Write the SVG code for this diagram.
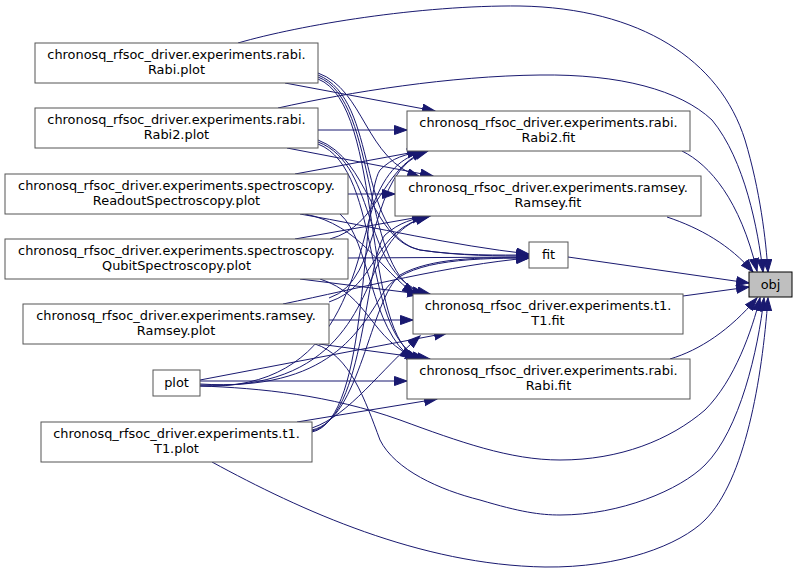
<svg xmlns="http://www.w3.org/2000/svg" width="797" height="573" viewBox="0 0 797 573">
<style>
.n rect{fill:#ffffff;stroke:#555555;stroke-width:1}
.n text{font-family:"DejaVu Sans",sans-serif;font-size:12.9px;fill:#000000;text-anchor:middle}
#e path{fill:none;stroke:#191970;stroke-width:1;marker-end:url(#a)}
</style>
<defs>
<marker id="a" markerUnits="userSpaceOnUse" markerWidth="14" markerHeight="11" refX="13" refY="5" orient="auto">
<path d="M0.5,0.5 L13,5 L0.5,9.5 Z" fill="#191970" stroke="#191970" stroke-width="1"/>
</marker>
</defs>
<rect width="797" height="573" fill="#ffffff"/>
<g id="e">
<path d="M238,43 C300,25 420,5 520,6 C640,8 720,60 745,140 C760,190 766,240 768,272"/>
<path d="M278,108 C350,92 450,76 540,75 C620,74 680,90 712,120 C745,160 758,230 763,272"/>
<path d="M682,151 C710,165 740,200 757,271"/>
<path d="M667,217 C700,228 730,245 753,272"/>
<path d="M568,257 L749,283"/>
<path d="M683,296 L749,287"/>
<path d="M670,359 C700,350 730,330 757,298"/>
<path d="M200,386 C260,388 330,395 400,420 C460,442 510,460 560,460 C620,460 670,440 705,410 C735,380 752,330 760,298"/>
<path d="M315,344 C350,355 365,400 380,440 C395,470 440,490 480,500 C520,512 540,515 560,515 C620,515 680,490 705,465 C740,430 758,350 764,298"/>
<path d="M212,462 C300,510 420,565 545,567 C620,568 680,545 705,520 C745,480 762,380 768,298"/>
<path d="M285,83 L435,111"/>
<path d="M318,73 C365,90 365,160 420,177"/>
<path d="M318,75 C380,100 355,235 420,250 C460,256 500,255 529,255"/>
<path d="M318,77 C380,100 360,280 425,294"/>
<path d="M318,79 C385,105 360,340 420,359"/>
<path d="M318,130 L407,130"/>
<path d="M287,148 L433,176"/>
<path d="M318,140 C370,160 370,240 420,250 C460,256 500,256 529,256"/>
<path d="M318,142 C380,165 360,280 430,294"/>
<path d="M318,144 C385,170 360,345 425,359"/>
<path d="M295,174 L420,151"/>
<path d="M348,194 L395,194"/>
<path d="M300,214 C380,228 450,245 529,254"/>
<path d="M305,214 C360,225 380,270 415,294"/>
<path d="M340,214 C370,240 370,330 413,359"/>
<path d="M330,239 C380,225 380,170 425,151"/>
<path d="M295,239 L425,216"/>
<path d="M348,258 L529,257"/>
<path d="M300,279 L420,294"/>
<path d="M320,279 C370,295 370,340 418,359"/>
<path d="M329,298 C385,280 365,170 428,151"/>
<path d="M329,302 C380,285 370,230 430,216"/>
<path d="M283,304 C360,288 450,265 529,258"/>
<path d="M329,320 L413,320"/>
<path d="M319,344 L430,359"/>
<path d="M200,381 L407,381"/>
<path d="M200,380 L447,333"/>
<path d="M200,384 C330,392 360,330 385,290 C405,262 460,258 529,258"/>
<path d="M200,385 C340,392 360,300 380,260 C395,230 410,222 428,216"/>
<path d="M200,386 C345,392 355,260 375,200 C390,165 405,157 425,151"/>
<path d="M297,422 L437,399"/>
<path d="M312,428 C350,415 380,370 420,336"/>
<path d="M312,430 C360,420 370,300 400,275 C430,258 480,257 529,258"/>
<path d="M312,431 C365,420 365,260 385,235 C400,222 412,219 430,216"/>
<path d="M312,432 C370,420 360,200 380,170 C392,158 405,154 425,151"/>
</g>
<g id="n_rabi_plot" class="n"><rect x="35" y="43" width="283" height="40"/><text x="176.5" y="59">chronosq_rfsoc_driver.experiments.rabi.</text><text x="176.5" y="74">Rabi.plot</text></g>
<g id="n_rabi2_plot" class="n"><rect x="35" y="108" width="283" height="40"/><text x="176.5" y="124">chronosq_rfsoc_driver.experiments.rabi.</text><text x="176.5" y="139">Rabi2.plot</text></g>
<g id="n_readout_plot" class="n"><rect x="5" y="174" width="343" height="40"/><text x="176.5" y="190">chronosq_rfsoc_driver.experiments.spectroscopy.</text><text x="176.5" y="205">ReadoutSpectroscopy.plot</text></g>
<g id="n_qubit_plot" class="n"><rect x="5" y="239" width="343" height="40"/><text x="176.5" y="255">chronosq_rfsoc_driver.experiments.spectroscopy.</text><text x="176.5" y="270">QubitSpectroscopy.plot</text></g>
<g id="n_ramsey_plot" class="n"><rect x="23" y="304" width="306" height="40"/><text x="176" y="320">chronosq_rfsoc_driver.experiments.ramsey.</text><text x="176" y="335">Ramsey.plot</text></g>
<g id="n_plot" class="n"><rect x="153" y="370" width="47" height="26"/><text x="176.5" y="387">plot</text></g>
<g id="n_t1_plot" class="n"><rect x="41" y="422" width="271" height="40"/><text x="176.5" y="438">chronosq_rfsoc_driver.experiments.t1.</text><text x="176.5" y="453">T1.plot</text></g>
<g id="n_rabi2_fit" class="n"><rect x="407" y="111" width="283" height="40"/><text x="548.5" y="127">chronosq_rfsoc_driver.experiments.rabi.</text><text x="548.5" y="142">Rabi2.fit</text></g>
<g id="n_ramsey_fit" class="n"><rect x="395" y="176" width="306" height="40"/><text x="548" y="192">chronosq_rfsoc_driver.experiments.ramsey.</text><text x="548" y="207">Ramsey.fit</text></g>
<g id="n_fit" class="n"><rect x="529" y="242" width="39" height="26"/><text x="548.5" y="259">fit</text></g>
<g id="n_t1_fit" class="n"><rect x="413" y="294" width="270" height="40"/><text x="548" y="310">chronosq_rfsoc_driver.experiments.t1.</text><text x="548" y="325">T1.fit</text></g>
<g id="n_rabi_fit" class="n"><rect x="407" y="359" width="283" height="40"/><text x="548.5" y="375">chronosq_rfsoc_driver.experiments.rabi.</text><text x="548.5" y="390">Rabi.fit</text></g>
<g id="n_obj" class="n"><rect x="749" y="272" width="43" height="25" style="fill:#bfbfbf;stroke:#000000"/><text x="770.5" y="289">obj</text></g>
</svg>
